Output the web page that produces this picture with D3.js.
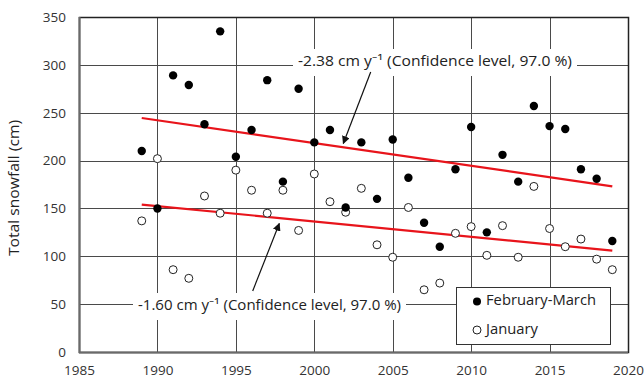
<!DOCTYPE html>
<html>
<head>
<meta charset="utf-8">
<script src="https://cdn.jsdelivr.net/npm/d3@7/dist/d3.min.js"></script>
<style>
  html, body { margin: 0; padding: 0; background: #fff; }
  svg { display: block; font-family: "Open Sans", sans-serif; }
</style>
</head>
<body>
<svg id="chart" width="644" height="381"></svg>
<script>
// Seasonal snowfall totals per winter (cm)
const years = d3.range(1989, 2020);
const febMarch = [210, 150, 289, 279, 238, 335, 204, 232, 284, 178, 275, 219, 232, 151, 219, 160,
                  222, 182, 135, 110, 191, 235, 125, 206, 178, 257, 236, 233, 191, 181, 116];
const january  = [137, 202, 86, 77, 163, 145, 190, 169, 145, 169, 127, 186, 157, 146, 171, 112,
                  99, 151, 65, 72, 124, 131, 101, 132, 99, 173, 129, 110, 118, 97, 86];

// Linear trends: value at the first year and slope (cm per year)
const trendFebMarch = { start: 244.5, slope: -2.38 };
const trendJanuary  = { start: 154.0, slope: -1.60 };

const xTicks = [1985, 1990, 1995, 2000, 2005, 2010, 2015, 2020];
const yTicks = [0, 50, 100, 150, 200, 250, 300, 350];

const labelFebMarch = "-2.38 cm y\u207B\u00B9 (Confidence level, 97.0 %)";
const labelJanuary  = "-1.60 cm y\u207B\u00B9 (Confidence level, 97.0 %)";
const legendNames = ["February-March", "January"];

const svg = d3.select("#chart");
const m = { left: 79, right: 628, top: 17, bottom: 352 };

const x = d3.scaleLinear().domain([1985, 2020]).range([m.left, m.right]);
const y = d3.scaleLinear().domain([0, 350]).range([m.bottom, m.top]);

svg.append("defs").append("marker")
  .attr("id", "arrow").attr("viewBox", "0 0 10 10")
  .attr("refX", 9).attr("refY", 5)
  .attr("markerWidth", 8).attr("markerHeight", 8)
  .attr("markerUnits", "userSpaceOnUse")
  .attr("orient", "auto")
  .append("path").attr("d", "M0,0 L10,5 L0,10 Z").attr("fill", "#111");

// Gridlines
const grid = svg.append("g").attr("stroke", "#4a4a4a").attr("stroke-width", 1);
grid.selectAll("line.h").data(yTicks).join("line")
  .attr("x1", m.left).attr("x2", m.right)
  .attr("y1", d => Math.round(y(d)) + 0.5).attr("y2", d => Math.round(y(d)) + 0.5);
grid.selectAll("line.v").data(xTicks).join("line")
  .attr("y1", m.top).attr("y2", m.bottom)
  .attr("x1", d => Math.round(x(d)) + 0.5).attr("x2", d => Math.round(x(d)) + 0.5);

// Frame
svg.append("rect")
  .attr("x", m.left + 0.5).attr("y", m.top + 0.5)
  .attr("width", m.right - m.left).attr("height", m.bottom - m.top)
  .attr("fill", "none").attr("stroke", "#222").attr("stroke-width", 1.5);
svg.append("line").attr("x1", m.left + 0.5).attr("x2", m.left + 0.5)
  .attr("y1", m.top).attr("y2", m.bottom + 1).attr("stroke", "#6a6a6a").attr("stroke-width", 2);
svg.append("line").attr("x1", m.left).attr("x2", m.right)
  .attr("y1", m.bottom + 0.5).attr("y2", m.bottom + 0.5).attr("stroke", "#6a6a6a").attr("stroke-width", 2);

// Axes
const xAxis = svg.append("g")
  .attr("transform", `translate(0,${m.bottom})`)
  .call(d3.axisBottom(x).tickValues(xTicks).tickFormat(d3.format("d")).tickSize(0).tickPadding(13));
const yAxis = svg.append("g")
  .attr("transform", `translate(${m.left},0)`)
  .call(d3.axisLeft(y).tickValues(yTicks).tickSize(0).tickPadding(13));
[xAxis, yAxis].forEach(a => {
  a.select(".domain").remove();
  a.selectAll("text").attr("font-family", "'Open Sans', sans-serif")
    .attr("font-size", 13.5).attr("fill", "#333");
});

svg.append("text")
  .attr("transform", `translate(15,188) rotate(-90)`)
  .attr("text-anchor", "middle").attr("dominant-baseline", "middle")
  .attr("font-size", 14.5).attr("fill", "#222")
  .attr("textLength", 136).attr("lengthAdjust", "spacingAndGlyphs")
  .text("Total snowfall (cm)");

// Trend lines
function trendEnds(t) {
  const y0 = years[0], y1 = years[years.length - 1];
  return [[y0, t.start], [y1, t.start + t.slope * (y1 - y0)]];
}
const line = d3.line().x(d => x(d[0])).y(d => y(d[1]));
[trendFebMarch, trendJanuary].forEach(t => {
  svg.append("path").attr("d", line(trendEnds(t)))
    .attr("fill", "none").attr("stroke", "#e8141b").attr("stroke-width", 2.2);
});

// Points
svg.append("g").selectAll("circle").data(years.map((yr, i) => [yr, january[i]])).join("circle")
  .attr("cx", d => x(d[0])).attr("cy", d => y(d[1])).attr("r", 4)
  .attr("fill", "#fff").attr("stroke", "#222").attr("stroke-width", 1);
svg.append("g").selectAll("circle").data(years.map((yr, i) => [yr, febMarch[i]])).join("circle")
  .attr("cx", d => x(d[0])).attr("cy", d => y(d[1])).attr("r", 4.2)
  .attr("fill", "#000");

// Trend annotations with white label backgrounds and arrows
function annotate(text, tx, ty, len, from, to) {
  const g = svg.append("g");
  g.append("rect").attr("fill", "#fff")
    .attr("x", tx - 5).attr("y", ty - 13).attr("width", len + 10).attr("height", 27);
  g.append("text").attr("x", tx).attr("y", ty)
    .attr("font-size", 14).attr("fill", "#222").attr("dominant-baseline", "middle")
    .attr("textLength", len).attr("lengthAdjust", "spacingAndGlyphs").text(text);
  svg.append("line")
    .attr("x1", from[0]).attr("y1", from[1]).attr("x2", to[0]).attr("y2", to[1])
    .attr("stroke", "#111").attr("stroke-width", 1.2).attr("marker-end", "url(#arrow)");
}
annotate(labelFebMarch, 298, 62, 274, [370.7, 72], [343.3, 143.5]);
annotate(labelJanuary, 138, 306, 263, [252.7, 291], [279.3, 223.5]);

// Legend
const lg = svg.append("g");
lg.append("rect").attr("x", 456.5).attr("y", 287.5).attr("width", 154).attr("height", 57)
  .attr("fill", "#fff").attr("stroke", "#333").attr("stroke-width", 1);
const legendWidths = [110, 52];
legendNames.forEach((name, i) => {
  const cy = 301.5 + i * 28.5;
  const c = lg.append("circle").attr("cx", 477).attr("cy", cy).attr("r", 4);
  if (i === 0) c.attr("fill", "#000");
  else c.attr("fill", "#fff").attr("stroke", "#222").attr("stroke-width", 1);
  lg.append("text").attr("x", 486).attr("y", cy).attr("dominant-baseline", "middle")
    .attr("font-size", 14.5).attr("fill", "#222")
    .attr("textLength", legendWidths[i]).attr("lengthAdjust", "spacingAndGlyphs").text(name);
});
</script>
</body>
</html>
